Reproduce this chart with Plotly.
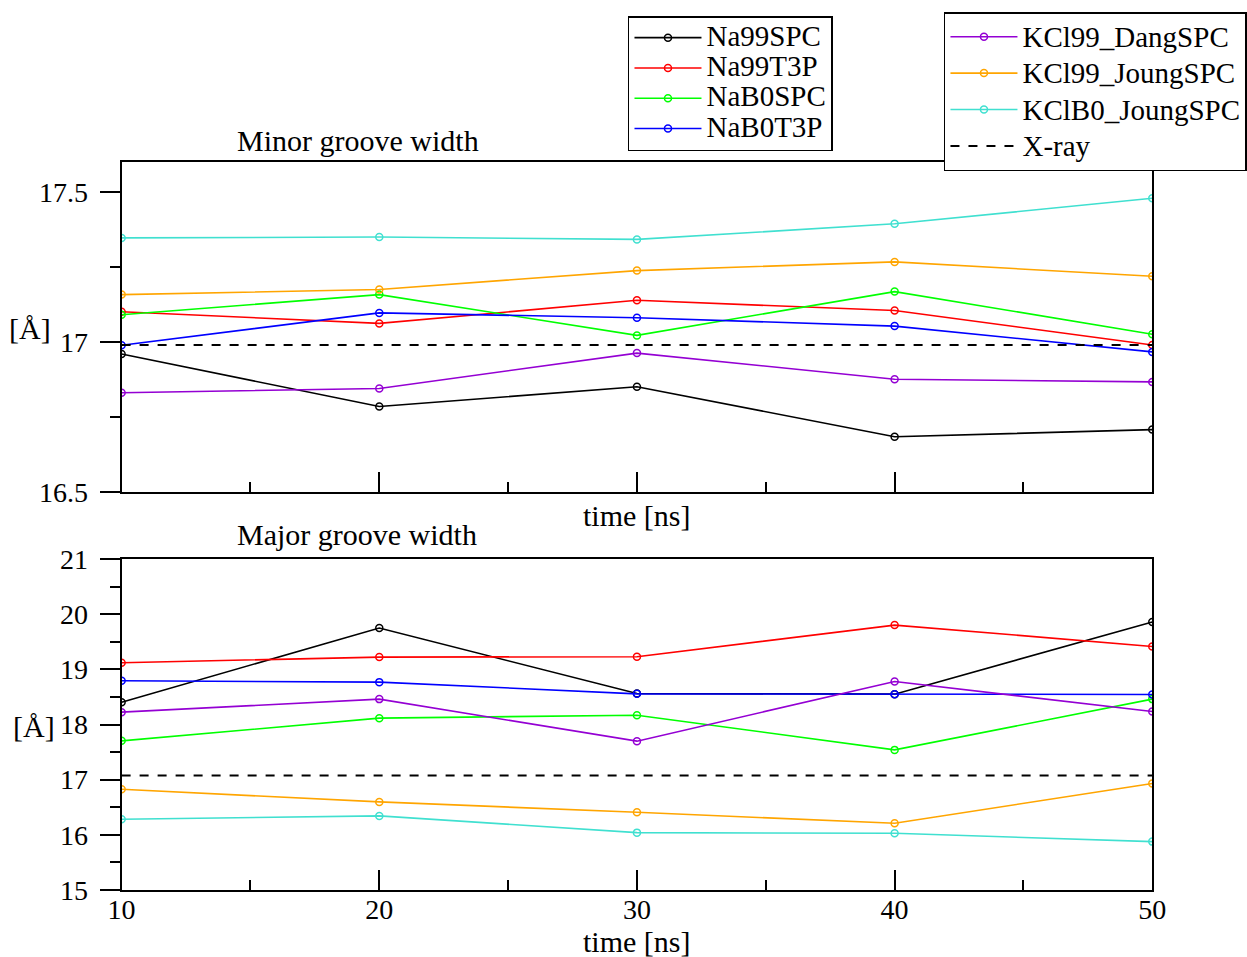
import plotly.graph_objects as go
from plotly.subplots import make_subplots

time_ns = [10, 20, 30, 40, 50]

series_names = ["Na99SPC", "Na99T3P", "NaB0SPC", "NaB0T3P",
                "KCl99_DangSPC", "KCl99_JoungSPC", "KClB0_JoungSPC"]
colors = ["#000000", "#ff0000", "#00ff00", "#0000ff", "#9400d3", "#ffa500", "#40e0d0"]

# Minor groove width [Å]
minor_na99spc = [16.960, 16.785, 16.851, 16.684, 16.708]
minor_na99t3p = [17.101, 17.062, 17.139, 17.105, 16.990]
minor_nab0spc = [17.091, 17.158, 17.022, 17.168, 17.026]
minor_nab0t3p = [16.989, 17.097, 17.081, 17.053, 16.967]
minor_kcl99_dang = [16.831, 16.845, 16.963, 16.876, 16.867]
minor_kcl99_joung = [17.158, 17.175, 17.238, 17.267, 17.219]
minor_kclb0_joung = [17.347, 17.350, 17.342, 17.394, 17.479]
minor_xray = 16.99

# Major groove width [Å]
major_na99spc = [18.405, 19.748, 18.562, 18.550, 19.857]
major_na99t3p = [19.119, 19.222, 19.228, 19.802, 19.415]
major_nab0spc = [17.704, 18.115, 18.169, 17.540, 18.460]
major_nab0t3p = [18.792, 18.768, 18.556, 18.550, 18.544]
major_kcl99_dang = [18.224, 18.460, 17.698, 18.780, 18.236]
major_kcl99_joung = [16.827, 16.597, 16.409, 16.210, 16.929]
major_kclb0_joung = [16.282, 16.343, 16.040, 16.028, 15.877]
major_xray = 17.075

minor_all = [minor_na99spc, minor_na99t3p, minor_nab0spc, minor_nab0t3p,
             minor_kcl99_dang, minor_kcl99_joung, minor_kclb0_joung]
major_all = [major_na99spc, major_na99t3p, major_nab0spc, major_nab0t3p,
             major_kcl99_dang, major_kcl99_joung, major_kclb0_joung]

FONT = "Liberation Serif"
TICK_FS = 28
TEXT_FS = 30
LEG_FS = 29
W, H = 1247, 957


def leg_name(name):
    return f'<span style="font-size:{LEG_FS}px">{name}</span>'


fig = make_subplots(rows=2, cols=1)

for i, name in enumerate(series_names):
    leg = "legend" if i < 4 else "legend2"
    fig.add_trace(go.Scatter(x=time_ns, y=minor_all[i], mode="lines+markers", name=leg_name(name),
                             line=dict(color=colors[i], width=1.6),
                             marker=dict(symbol="circle-open", size=7, color=colors[i], line=dict(width=1.5)),
                             legend=leg, showlegend=True), row=1, col=1)
    fig.add_trace(go.Scatter(x=time_ns, y=major_all[i], mode="lines+markers", name=leg_name(name),
                             line=dict(color=colors[i], width=1.6),
                             marker=dict(symbol="circle-open", size=7, color=colors[i], line=dict(width=1.5)),
                             legend=leg, showlegend=False), row=2, col=1)

fig.add_trace(go.Scatter(x=[time_ns[0], time_ns[-1]], y=[minor_xray, minor_xray], mode="lines",
                         name=leg_name("X-ray"), line=dict(color="black", width=2, dash="dash"),
                         legend="legend2", showlegend=True), row=1, col=1)
fig.add_trace(go.Scatter(x=[time_ns[0], time_ns[-1]], y=[major_xray, major_xray], mode="lines",
                         name=leg_name("X-ray"), line=dict(color="black", width=2, dash="dash"),
                         legend="legend2", showlegend=False), row=2, col=1)

xd = [122 / W, 1156 / W]
top_dom = [1 - 492 / H, 1 - 162 / H]
bot_dom = [1 - 890 / H, 1 - 559 / H]

axis_common = dict(showline=True, linecolor="black", linewidth=2, mirror=True, automargin=False,
                   showgrid=False, zeroline=False, ticks="outside", tickcolor="black",
                   tickwidth=1.5, tickfont=dict(family=FONT, size=TICK_FS, color="black"))

fig.update_xaxes(**axis_common)
fig.update_yaxes(**axis_common)

xcommon = dict(range=[10, 50], tick0=10, dtick=10, ticks="inside", ticklen=20,
               minor=dict(dtick=5, tick0=10, ticks="inside", ticklen=10, tickcolor="black", tickwidth=1.5))
fig.update_xaxes(domain=xd, showticklabels=False, row=1, col=1, **xcommon)
fig.update_xaxes(domain=xd, showticklabels=True, ticklabelstandoff=-7, row=2, col=1, **xcommon)

fig.update_yaxes(domain=top_dom, range=[16.5, 17.6], ticklen=20, ticklabelstandoff=6,
                 tickvals=[16.5, 17, 17.5], ticktext=["16.5", "17", "17.5"],
                 minor=dict(tickvals=[16.75, 17.25], ticks="outside", ticklen=10, tickcolor="black", tickwidth=1.5),
                 row=1, col=1)
fig.update_yaxes(domain=bot_dom, range=[15, 21], tick0=15, dtick=1, ticklen=20, ticklabelstandoff=6,
                 minor=dict(dtick=0.5, tick0=15, ticks="outside", ticklen=10, tickcolor="black", tickwidth=1.5),
                 row=2, col=1)


def ann(text, x, y, xanchor="center", yanchor="middle"):
    return dict(text=text, x=x / W, y=1 - y / H, xref="paper", yref="paper", showarrow=False,
                xanchor=xanchor, yanchor=yanchor, font=dict(family=FONT, size=TEXT_FS, color="black"))


fig.update_layout(
    width=W, height=H, margin=dict(l=0, r=0, t=0, b=0),
    paper_bgcolor="white", plot_bgcolor="white",
    font=dict(family=FONT, size=TEXT_FS, color="black"),
    annotations=[
        ann("Minor groove width", 236, 140, xanchor="left"),
        ann("Major groove width", 236, 534, xanchor="left"),
        ann("[Å]", 30, 328),
        ann("[Å]", 34, 726),
        ann("time [ns]", 639, 515),
        ann("time [ns]", 639, 941),
    ],
    legend=dict(x=630 / W, y=1 - 16 / H, xanchor="left", yanchor="top",
                bordercolor="black", borderwidth=1.5, bgcolor="white", itemwidth=67,
                font=dict(family=FONT, size=21, color="black"), tracegroupgap=0),
    legend2=dict(x=947 / W, y=1 - 12 / H, xanchor="left", yanchor="top",
                 bordercolor="black", borderwidth=1.5, bgcolor="white", itemwidth=67,
                 font=dict(family=FONT, size=25.7, color="black"), tracegroupgap=0),
)

fig.write_html("out.html")
